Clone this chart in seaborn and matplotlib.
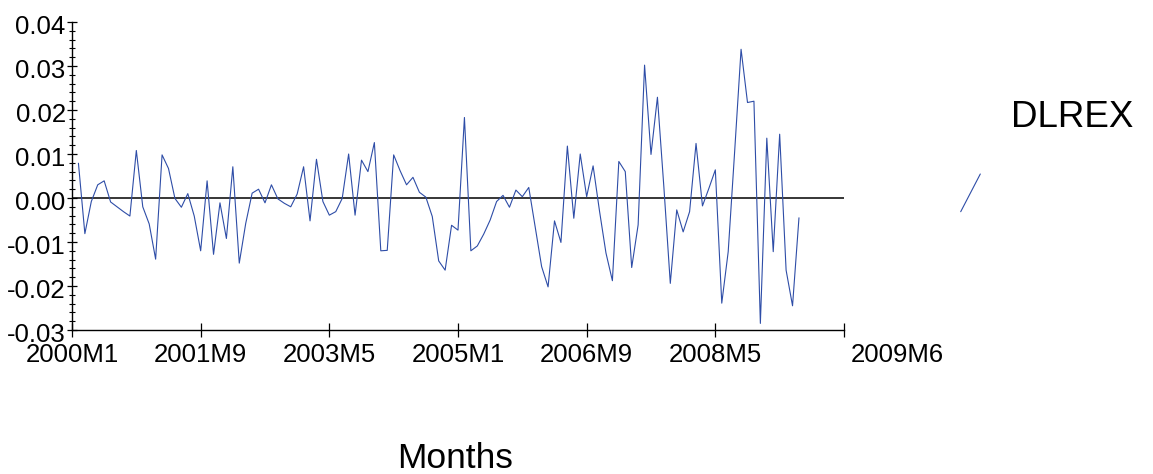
import numpy as np
import pandas as pd
import matplotlib
matplotlib.use("Agg")
import matplotlib.pyplot as plt
import matplotlib.transforms as mtransforms
from matplotlib.lines import Line2D
from matplotlib.ticker import MultipleLocator
import seaborn as sns

# ---- data: DLREX, monthly, 2000M2 .. 2009M6 (first difference of log REX) ----
dlrex = [
    0.0079, -0.0081, -0.0008, 0.0030, 0.0039, -0.0009, -0.0020, -0.0031, -0.0041, 0.0108,
    -0.0020, -0.0059, -0.0139, 0.0098, 0.0067, -0.0001, -0.0021, 0.0010, -0.0041, -0.0120,
    0.0039, -0.0128, -0.0011, -0.0092, 0.0071, -0.0148, -0.0058, 0.0011, 0.0020, -0.0011,
    0.0030, -0.0002, -0.0012, -0.0020, 0.0009, 0.0071, -0.0052, 0.0088, -0.0008, -0.0039,
    -0.0031, -0.0001, 0.0100, -0.0039, 0.0086, 0.0060, 0.0126, -0.0120, -0.0119, 0.0098,
    0.0062, 0.0030, 0.0047, 0.0013, 0.0002, -0.0042, -0.0143, -0.0164, -0.0062, -0.0073,
    0.0183, -0.0120, -0.0109, -0.0082, -0.0050, -0.0008, 0.0006, -0.0021, 0.0018, 0.0003,
    0.0024, -0.0066, -0.0156, -0.0202, -0.0052, -0.0101, 0.0118, -0.0046, 0.0100, 0.0003,
    0.0073, -0.0030, -0.0125, -0.0188, 0.0083, 0.0060, -0.0158, -0.0061, 0.0302, 0.0099,
    0.0229, 0.0025, -0.0194, -0.0027, -0.0077, -0.0031, 0.0124, -0.0018, 0.0022, 0.0064,
    -0.0239, -0.0122, 0.0105, 0.0338, 0.0217, 0.0220, -0.0285, 0.0136, -0.0122, 0.0145,
    -0.0164, -0.0245, -0.0045,
]
start_period = "2000-02"
tick_labels = ["2000M1", "2001M9", "2003M5", "2005M1", "2006M9", "2008M5", "2009M6"]
tick_months = [0, 20, 40, 60, 80, 100, 120]   # months since 2000M1
series_name = "DLREX"
x_title = "Months"

periods = pd.period_range(start=start_period, periods=len(dlrex), freq="M")
base = pd.Period("2000-01", freq="M")
df = pd.DataFrame({
    "month": [(p - base).n for p in periods],
    "value": dlrex,
})

# ---- style ----
sns.set_style("white")
plt.rcParams["font.family"] = ["Liberation Sans", "DejaVu Sans"]
plt.rcParams["axes.unicode_minus"] = False
plt.rcParams["text.color"] = "black"
plt.rcParams["xtick.color"] = "black"
plt.rcParams["ytick.color"] = "black"
plt.rcParams["xtick.labelcolor"] = "black"
plt.rcParams["ytick.labelcolor"] = "black"

W, H = 1153, 474
fig = plt.figure(figsize=(W / 100, H / 100), dpi=100)
ax = fig.add_axes([72 / W, 1 - 330 / H, (844 - 72) / W, (330 - 22) / H])

sns.lineplot(data=df, x="month", y="value", ax=ax, color="#2E4DA7",
             linewidth=0.8, legend=False)
ax.axhline(0, color="black", linewidth=1.1, zorder=1)

ax.set_xlim(0, 120)
ax.set_ylim(-0.03, 0.04)

ax.set_xticks(tick_months)
ax.set_xticklabels(tick_labels)
ax.yaxis.set_major_locator(MultipleLocator(0.01))
ax.yaxis.set_minor_locator(MultipleLocator(0.002))
ax.set_yticklabels([f"{v:.2f}" for v in ax.get_yticks()])
ax.set_ylim(-0.03, 0.04)

ax.tick_params(axis="x", direction="inout", length=10, width=0.9, color="black",
               labelsize=18.5, pad=4.5, bottom=True, labelcolor="black")
ax.tick_params(axis="y", which="major", direction="inout", length=7, width=0.9,
               color="black", labelsize=18.5, pad=1, left=True, labelcolor="black")
ax.tick_params(axis="y", which="minor", direction="inout", length=4.5, width=0.8,
               color="black", left=True)

# y labels sit a little below their ticks
dy = mtransforms.ScaledTranslation(0, -2 / 100, fig.dpi_scale_trans)
for lab in ax.get_yticklabels():
    lab.set_transform(lab.get_transform() + dy)

# last x label sits to the right of its tick
last = ax.get_xticklabels()[-1]
last.set_horizontalalignment("left")
last.set_transform(last.get_transform()
                   + mtransforms.ScaledTranslation(7 / 100, 0, fig.dpi_scale_trans))

for s in ["top", "right"]:
    ax.spines[s].set_visible(False)
for s in ["left", "bottom"]:
    ax.spines[s].set_color("black")
    ax.spines[s].set_linewidth(1.0)

ax.set_xlabel("")
ax.set_ylabel("")

# x title
fig.text(455 / W, 1 - 468 / H, x_title, ha="center", va="baseline",
         fontsize=25.5, color="black")

# legend: name and a short diagonal line sample
fig.text(1011 / W, 1 - 127 / H, series_name, ha="left", va="baseline",
         fontsize=26.5, color="black")
fig.add_artist(Line2D([960.7 / W, 980.3 / W], [1 - 211.7 / H, 1 - 174 / H],
                      transform=fig.transFigure, color="#2E4DA7", linewidth=0.8))

fig.savefig("out.png", dpi=100)
